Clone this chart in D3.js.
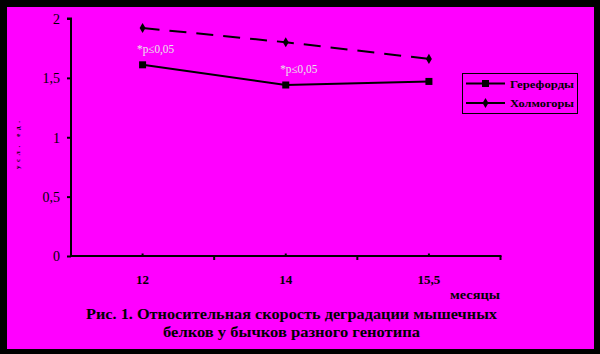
<!DOCTYPE html>
<html><head><meta charset="utf-8">
<script src="https://cdn.jsdelivr.net/npm/d3@7"></script>
<style>html,body{margin:0;padding:0;background:#000;}svg{display:block;}</style>
</head><body>
<svg id="c" width="600" height="354"></svg>
<script>
const categories = ["12", "14", "15,5"];
const seriesNames = ["Герефорды", "Холмогоры"];
const herefords = [1.61, 1.44, 1.47];
const kholmogory = [1.92, 1.80, 1.66];
const yTicks = [0, 0.5, 1, 1.5, 2];
const yTickLabels = ["0", "0,5", "1", "1,5", "2"];
const annotations = [{cat: "12", text: "*p≤0,05"}, {cat: "14", text: "*p≤0,05"}];
const yTitle = "усл. ед.";
const xTitle = "месяцы";
const caption = ["Рис. 1. Относительная скорость деградации мышечных", "белков у бычков разного генотипа"];

const svg = d3.select("#c");
const font = "'Liberation Serif','Times New Roman',serif";
svg.append("rect").attr("x",0).attr("y",0).attr("width",600).attr("height",354).attr("fill","#000");
svg.append("rect").attr("x",7).attr("y",7).attr("width",587).attr("height",342).attr("fill","#ff00ff");

const x = d3.scaleBand().domain(categories).range([71, 500.5]).padding(0);
const y = d3.scaleLinear().domain([0, 2]).range([256, 18.5]);
const cx = c => x(c) + x.bandwidth()/2;

// Y axis
const yAxis = d3.axisLeft(y).tickValues(yTicks).tickSize(4).tickFormat((d,i)=>yTickLabels[i]);
const gy = svg.append("g").attr("transform","translate(71,0)").call(yAxis);
gy.select(".domain").attr("stroke","#000").attr("stroke-width",2).attr("d","M-4,18.5H0V257");
gy.selectAll(".tick line").attr("stroke","#000").attr("stroke-width",2);
gy.selectAll(".tick text").attr("font-family",font).attr("font-size",14).attr("fill","#000").attr("x",-11).attr("dy","0.35em");

// X axis
const gx = svg.append("g").attr("transform","translate(0,256)");
gx.append("line").attr("x1",70).attr("x2",501.5).attr("y1",0).attr("y2",0).attr("stroke","#000").attr("stroke-width",2);
const bounds = categories.map(c => x(c)).concat([x.range()[1]]);
gx.selectAll(".bt").data(bounds.slice(1)).join("line").attr("x1",d=>d).attr("x2",d=>d).attr("y1",0).attr("y2",4).attr("stroke","#000").attr("stroke-width",2);
gx.selectAll(".ct").data(categories).join("line").attr("x1",d=>cx(d)).attr("x2",d=>cx(d)).attr("y1",-2.5).attr("y2",0).attr("stroke","#000").attr("stroke-width",2);
gx.selectAll(".tl").data(categories).join("text").attr("x",d=>cx(d)).attr("y",28)
  .attr("text-anchor","middle").attr("font-family",font).attr("font-weight","bold").attr("font-size",13).attr("fill","#000").text(d=>d);

// Lines
const line = d3.line().x((d,i)=>cx(categories[i])).y(d=>y(d));
svg.append("path").datum(kholmogory).attr("d",line).attr("fill","none").attr("stroke","#000").attr("stroke-width",2).attr("stroke-dasharray","17,10");
svg.append("path").datum(herefords).attr("d",line).attr("fill","none").attr("stroke","#000").attr("stroke-width",2);
svg.selectAll(".sq").data(herefords).join("rect").attr("x",(d,i)=>cx(categories[i])-3.5).attr("y",d=>y(d)-3.5).attr("width",7).attr("height",7).attr("fill","#000");
const diamond = d3.symbol().type(d3.symbolDiamond).size(30);
svg.selectAll(".dm").data(kholmogory).join("path").attr("d",diamond).attr("transform",(d,i)=>`translate(${cx(categories[i])},${y(d)})`).attr("fill","#000");

// Annotations
svg.selectAll(".an").data(annotations).join("text")
  .attr("x",d=>cx(d.cat)-5.5).attr("y",d=>y(herefords[categories.indexOf(d.cat)])-12)
  .attr("font-family",font).attr("font-size",12).attr("fill","#e8e8e8").attr("textLength",37).attr("lengthAdjust","spacingAndGlyphs").text(d=>d.text);

// Legend
const lg = svg.append("g");
lg.append("rect").attr("x",462.5).attr("y",73.5).attr("width",115).attr("height",40).attr("fill","none").attr("stroke","#000").attr("stroke-width",1);
const lys = [83.5, 103];
lg.append("line").attr("x1",466).attr("x2",505).attr("y1",lys[0]).attr("y2",lys[0]).attr("stroke","#000").attr("stroke-width",2);
lg.append("rect").attr("x",482).attr("y",lys[0]-3.5).attr("width",7).attr("height",7).attr("fill","#000");
lg.append("line").attr("x1",466).attr("x2",505).attr("y1",lys[1]).attr("y2",lys[1]).attr("stroke","#000").attr("stroke-width",2).attr("stroke-dasharray","17,5");
lg.append("path").attr("d",diamond).attr("transform",`translate(485.5,${lys[1]})`).attr("fill","#000");
lg.selectAll(".lt").data(seriesNames).join("text").attr("x",510).attr("y",(d,i)=>lys[i]+4)
  .attr("font-family",font).attr("font-weight","bold").attr("font-size",11).attr("fill","#000")
  .attr("textLength",64).attr("lengthAdjust","spacingAndGlyphs").text(d=>d);

// Titles
svg.append("text").attr("transform","translate(20,145) rotate(-90)").attr("text-anchor","middle")
  .attr("font-family",font).attr("font-weight","bold").attr("font-size",7).attr("fill","#000").attr("textLength",48).text(yTitle);
svg.append("text").attr("x",500).attr("y",299).attr("text-anchor","end").attr("font-family",font).attr("font-weight","bold").attr("font-size",12)
  .attr("fill","#000").attr("textLength",50).attr("lengthAdjust","spacingAndGlyphs").text(xTitle);
svg.selectAll(".cap").data(caption).join("text").attr("x",291.5).attr("y",(d,i)=>[318.5,337][i]).attr("text-anchor","middle")
  .attr("font-family",font).attr("font-weight","bold").attr("font-size",14).attr("fill","#000")
  .attr("textLength",(d,i)=>[411,257][i]).attr("lengthAdjust","spacingAndGlyphs").text(d=>d);
</script>
</body></html>
